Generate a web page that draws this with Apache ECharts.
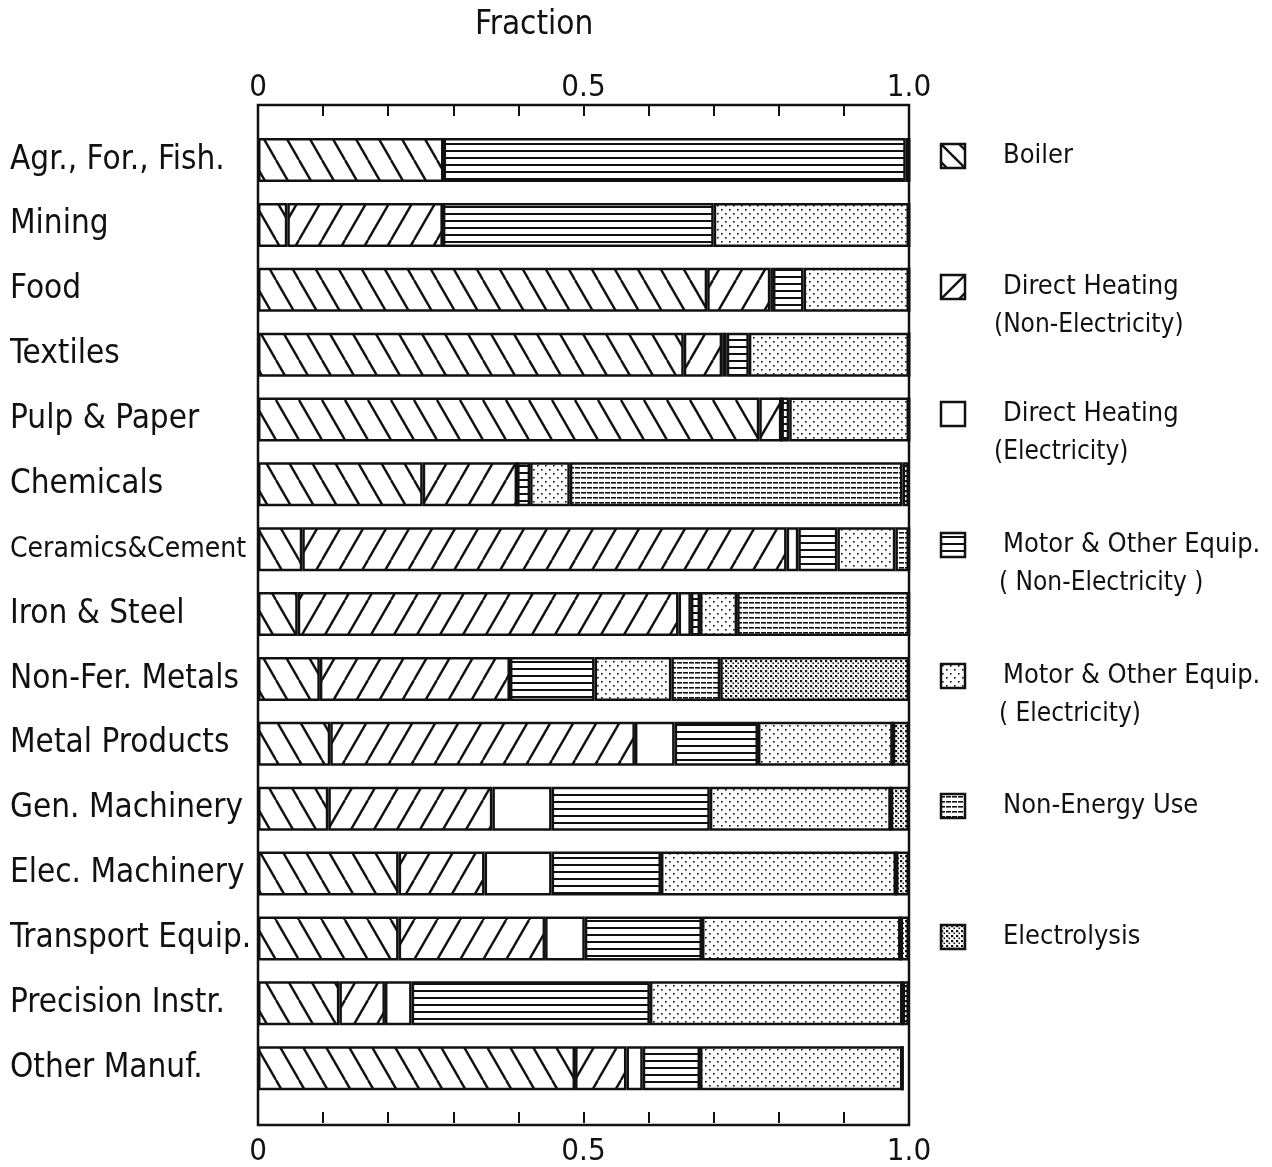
<!DOCTYPE html>
<html>
<head>
<meta charset="utf-8">
<script src="https://cdn.jsdelivr.net/npm/echarts@6/dist/echarts.min.js"></script>
<style>
  html, body { margin: 0; padding: 0; background: #ffffff; }
  #chart { width: 1272px; height: 1167px; }
</style>
</head>
<body>
<div id="chart"></div>
<script>
// Industries, top to bottom
const industries = [
  'Agr., For., Fish.', 'Mining', 'Food', 'Textiles', 'Pulp & Paper', 'Chemicals',
  'Ceramics&Cement', 'Iron & Steel', 'Non-Fer. Metals', 'Metal Products',
  'Gen. Machinery', 'Elec. Machinery', 'Transport Equip.', 'Precision Instr.', 'Other Manuf.'
];

// Fraction of energy use by end use, per industry
const boiler         = [0.285, 0.045, 0.690, 0.654, 0.770, 0.253, 0.068, 0.061, 0.095, 0.111, 0.108, 0.216, 0.216, 0.125, 0.487];
const heatNonElec    = [0.000, 0.239, 0.097, 0.059, 0.034, 0.145, 0.744, 0.585, 0.292, 0.468, 0.252, 0.132, 0.225, 0.070, 0.079];
const heatElec       = [0.000, 0.000, 0.004, 0.007, 0.000, 0.000, 0.018, 0.019, 0.000, 0.061, 0.091, 0.103, 0.061, 0.041, 0.025];
const motorNonElec   = [0.710, 0.416, 0.047, 0.034, 0.012, 0.020, 0.060, 0.014, 0.130, 0.128, 0.243, 0.168, 0.180, 0.366, 0.088];
const motorElec      = [0.005, 0.300, 0.162, 0.246, 0.184, 0.061, 0.089, 0.057, 0.118, 0.207, 0.278, 0.361, 0.305, 0.388, 0.311];
const nonEnergy      = [0.000, 0.000, 0.000, 0.000, 0.000, 0.511, 0.021, 0.264, 0.075, 0.000, 0.000, 0.000, 0.000, 0.000, 0.000];
const electrolysis   = [0.000, 0.000, 0.000, 0.000, 0.000, 0.010, 0.000, 0.000, 0.290, 0.025, 0.028, 0.020, 0.013, 0.010, 0.000];

// Axis labels shown on the fraction scale
const tickValues = [0, 0.5, 1.0];
const tickLabels = ['0', '0.5', '1.0'];

// Legend entries (first line, optional second line)
const legendLines = [
  ['Boiler', ''],
  ['Direct Heating', '(Non-Electricity)'],
  ['Direct Heating', '(Electricity)'],
  ['Motor & Other Equip.', '( Non-Electricity )'],
  ['Motor & Other Equip.', '( Electricity)'],
  ['Non-Energy Use', ''],
  ['Electrolysis', '']
];

const FONT = "'DejaVu Sans Condensed', 'Liberation Sans', sans-serif";
const INK = '#111111';

// ---- hatch / stipple fills ----
function makeCanvas(w, h) {
  const c = document.createElement('canvas');
  c.width = w; c.height = h;
  const ctx = c.getContext('2d');
  ctx.fillStyle = '#ffffff';
  ctx.fillRect(0, 0, w, h);
  ctx.strokeStyle = INK;
  ctx.fillStyle = INK;
  return [c, ctx];
}
function tile(w, h, draw) {
  const [c, ctx] = makeCanvas(w, h);
  draw(ctx, w, h);
  return c;
}
function diagonalTile(back) {
  return tile(23, 40, (ctx, w, h) => {
    ctx.lineWidth = 2.4;
    for (let k = -1; k <= 1; k++) {
      ctx.beginPath();
      if (back) { ctx.moveTo(k * w, 0); ctx.lineTo(k * w + w, h); }
      else { ctx.moveTo(k * w, h); ctx.lineTo(k * w + w, 0); }
      ctx.stroke();
    }
  });
}
const tiles = [
  diagonalTile(true),                                                    // boiler
  diagonalTile(false),                                                   // direct heating, fuel
  null,                                                                  // direct heating, electric
  tile(8, 7, (ctx) => { ctx.fillRect(0, 3, 8, 2); }),                    // motors, fuel
  tile(8, 8, (ctx) => { ctx.fillRect(1, 1, 1.6, 1.6); ctx.fillRect(5, 5, 1.6, 1.6); }), // motors, electric
  tile(6, 5, (ctx) => { ctx.fillRect(0, 2, 4, 1.6); ctx.fillRect(5, 2, 1, 1.6); }),     // non-energy
  tile(5, 5, (ctx) => { ctx.fillRect(0, 0, 2.2, 2.2); ctx.fillRect(2.5, 2.5, 1.6, 1.6); }) // electrolysis
];
const fills = tiles.map((t) => t ? { image: t, repeat: 'repeat' } : '#ffffff');

// Legend swatches, drawn as small key boxes
const SW = 24;
function swatch(i) {
  const [c, ctx] = makeCanvas(SW, SW);
  ctx.lineWidth = 2.4;
  if (i === 0) {
    ctx.beginPath(); ctx.moveTo(0, 0); ctx.lineTo(SW, SW); ctx.stroke();
    ctx.beginPath(); ctx.moveTo(SW - 6, 0); ctx.lineTo(SW, 6); ctx.stroke();
    ctx.beginPath(); ctx.moveTo(0, SW - 6); ctx.lineTo(6, SW); ctx.stroke();
  } else if (i === 1) {
    ctx.beginPath(); ctx.moveTo(0, SW); ctx.lineTo(SW, 0); ctx.stroke();
    ctx.beginPath(); ctx.moveTo(SW - 6, SW); ctx.lineTo(SW, SW - 6); ctx.stroke();
  } else if (tiles[i]) {
    ctx.fillStyle = ctx.createPattern(tiles[i], 'repeat');
    ctx.fillRect(0, 0, SW, SW);
  }
  return c;
}

const seriesNames = [
  'Boiler', 'Direct Heating (Non-Electricity)', 'Direct Heating (Electricity)',
  'Motor & Other Equip. (Non-Electricity)', 'Motor & Other Equip. (Electricity)',
  'Non-Energy Use', 'Electrolysis'
];
const seriesData = [boiler, heatNonElec, heatElec, motorNonElec, motorElec, nonEnergy, electrolysis];

// ---- layout ----
const plotLeft = 258, plotRight = 909;
const frameTop = 105, frameBottom = 1125;
const gridTop = 127.6, gridBottom = 1102.6;

function tickFormatter(v) {
  for (let i = 0; i < tickValues.length; i++) {
    if (Math.abs(v - tickValues[i]) < 1e-9) return tickLabels[i];
  }
  return '';
}

const xAxisBase = {
  type: 'value', min: 0, max: 1, interval: 0.1,
  axisLine: { show: false },
  splitLine: { show: false },
  axisTick: { show: true, inside: true, length: 11, lineStyle: { color: INK, width: 2 } },
  axisLabel: { formatter: tickFormatter, color: INK, fontFamily: FONT, fontSize: 31, showMinLabel: true, showMaxLabel: true }
};

const legendGraphics = [];
const legendY = [156, 287, 414, 545, 676, 806, 937];
legendLines.forEach((lines, i) => {
  const y = legendY[i];
  legendGraphics.push({
    type: 'image', x: 941, y: y - SW / 2,
    style: { image: swatch(i), width: SW, height: SW }
  });
  legendGraphics.push({
    type: 'rect', shape: { x: 941, y: y - SW / 2, width: SW, height: SW },
    style: { fill: 'none', stroke: INK, lineWidth: 2.5 }
  });
  legendGraphics.push({
    type: 'text', x: 1003, y: y,
    style: { text: lines[0], fill: INK, font: '27px ' + FONT, verticalAlign: 'middle' }
  });
  if (lines[1]) {
    legendGraphics.push({
      type: 'text', x: lines[1].startsWith('( ') ? 999 : 994, y: y + 38,
      style: { text: lines[1], fill: INK, font: '26px ' + FONT, verticalAlign: 'middle' }
    });
  }
});

const chart = echarts.init(document.getElementById('chart'), null, { renderer: 'canvas' });
chart.setOption({
  backgroundColor: '#ffffff',
  animation: false,
  title: {
    text: 'Fraction', left: 470, top: 4,
    textStyle: { color: INK, fontFamily: FONT, fontSize: 33, fontWeight: 'normal' }
  },
  grid: { left: plotLeft, right: 1272 - plotRight, top: gridTop, bottom: 1167 - gridBottom, containLabel: false },
  xAxis: [
    Object.assign({}, xAxisBase, { position: 'top', offset: gridTop - frameTop,
      axisLabel: Object.assign({}, xAxisBase.axisLabel, { margin: 2 }) }),
    Object.assign({}, xAxisBase, { position: 'bottom', offset: frameBottom - gridBottom,
      axisLabel: Object.assign({}, xAxisBase.axisLabel, { margin: 13 }) })
  ],
  yAxis: {
    type: 'category', data: industries, inverse: true,
    axisLine: { show: false }, axisTick: { show: false }, splitLine: { show: false },
    axisLabel: {
      align: 'left', margin: plotLeft - 10, color: INK, fontFamily: FONT, fontSize: 33, interval: 0,
      // a long name without spaces is set a little tighter so it stays clear of the frame
      formatter: (v) => v.length >= 15 && v.indexOf(' ') < 0 ? '{tight|' + v + '}' : v,
      rich: { tight: { fontFamily: FONT, fontSize: 28, color: INK } }
    }
  },
  series: seriesNames.map((name, i) => ({
    name: name, type: 'bar', stack: 'use', xAxisIndex: 0,
    barWidth: 44, data: seriesData[i],
    itemStyle: { color: fills[i], borderColor: INK, borderWidth: 2.5 },
    emphasis: { disabled: true }
  })),
  graphic: [
    {
      type: 'rect', z: 100,
      shape: { x: plotLeft, y: frameTop, width: plotRight - plotLeft, height: frameBottom - frameTop },
      style: { fill: 'none', stroke: INK, lineWidth: 2.5 }
    }
  ].concat(legendGraphics)
});
</script>
</body>
</html>
